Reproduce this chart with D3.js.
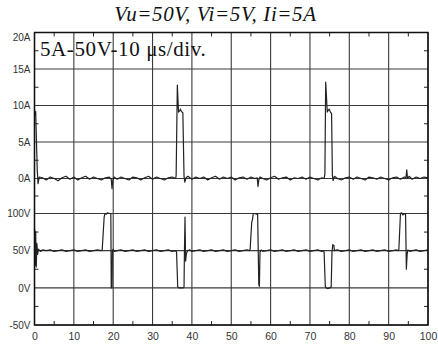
<!DOCTYPE html>
<html>
<head>
<meta charset="utf-8">
<script src="https://cdn.jsdelivr.net/npm/d3@7"></script>
<style>
  html, body { margin: 0; padding: 0; background: #fff; }
  svg { display: block; }
</style>
</head>
<body>
<svg id="chart" width="438" height="344"></svg>
<script>
// Time axis (µs) and tick labels
const timeTicks = [0, 10, 20, 30, 40, 50, 60, 70, 80, 90, 100];
const currentTicks = [0, 5, 10, 15, 20];
const voltageTicks = [-50, 0, 50, 100];

// Inductor current trace: [time, amperes]
const currentTrace = [
  [0,8.6],[0.3,9.2],[0.5,5.0],[0.7,1.2],[0.9,-0.7],[1.2,0.2],[2,0.1],[3,-0.2],[4,0.2],[5,0],
  [6,-0.3],[7,0.1],[8,0.3],[9,-0.1],[10,0.2],[11,-0.2],[12,0.1],[13,0.3],[14,-0.1],[15,0.2],
  [16,0],[17,-0.2],[18,0.1],[19,0.2],[19.5,-0.1],[19.7,-1.4],[19.9,-0.3],[20.2,0.2],[21,-0.1],
  [22,0.2],[23,0],[24,-0.2],[25,0.2],[26,0.1],[27,-0.2],[28,0.1],[29,0.3],[30,-0.1],[31,0.2],
  [32,0],[33,-0.2],[34,0.1],[35,0.2],[35.9,0],[36.0,0.5],[36.3,12.8],[36.6,9.1],[36.9,9.3],
  [37.1,9.5],[37.3,9.2],[37.7,9.0],[38.0,0.3],[38.2,-0.5],[38.5,0.1],[39,0.3],[40,-0.1],[41,0.2],
  [42,0],[43,0.2],[44,-0.2],[45,0.1],[46,0.3],[47,-0.1],[48,0.2],[49,0],[50,0.2],[51,-0.2],
  [52,0.1],[53,0.2],[54,-0.1],[55,0.2],[56,0],[56.6,0.1],[56.8,-1.1],[57.0,-0.2],[57.3,0.2],
  [58,0],[59,-0.2],[60,0.1],[61,0.3],[62,-0.1],[63,0.1],[64,0.2],[65,-0.2],[66,0.1],[67,0],
  [68,0.2],[69,-0.1],[70,0.2],[71,0],[72,-0.2],[73,0.1],[73.6,0],[73.8,0.6],[74.0,13.2],
  [74.4,9.1],[74.7,9.4],[74.9,9.5],[75.2,9.1],[75.5,8.9],[75.7,0.4],[75.9,-0.3],[76.2,0.3],
  [77,0],[78,-0.2],[79,0.1],[80,0.2],[81,-0.1],[82,0.2],[83,0],[84,-0.2],[85,0.2],[86,0.1],
  [87,-0.1],[88,0.2],[89,0],[90,-0.2],[91,0.1],[92,0.2],[93,-0.1],[94,0.2],[94.4,0.1],
  [94.6,1.2],[94.8,0],[95.2,0.3],[96,-0.1],[97,0.2],[98,0],[99,0.2],[100,0.1]
];

// Switch node voltage trace: [time, volts]
const voltageTrace = [
  [0,80],[0.15,30],[0.3,76],[0.45,28],[0.6,60],[0.8,45],[1.0,52],[1.5,49],[2,51],[3,50],
  [4,51],[5,49],[6,50],[7,51],[8,49],[9,50],[10,51],[11,49],[12,50],[13,51],[14,49],[15,50],
  [16,51],[16.9,50],[17.2,51],[17.7,95],[17.9,100],[18.2,99],[18.6,101],[19.0,100],[19.4,100],
  [19.5,0],[19.7,0],[19.8,50],[20.0,52],[20.3,49],[21,50],[22,51],[23,49],[24,50],[25,51],
  [26,49],[27,50],[28,51],[29,49],[30,50],[31,51],[32,49],[33,50],[34,51],[35,49],[35.9,50],
  [36.1,48],[36.4,1],[36.7,0],[37.2,0],[37.8,0],[38.0,1],[38.1,48],[38.25,95],[38.4,36],
  [38.6,46],[38.9,50],[39.5,51],[40,49],[41,50],[42,51],[43,49],[44,50],[45,51],[46,49],
  [47,50],[48,51],[49,49],[50,50],[51,51],[52,49],[53,50],[54,51],[54.6,50],[54.8,52],
  [55.2,88],[55.4,92],[55.6,100],[56.0,100],[56.4,99],[56.7,100],[57.0,5],[57.15,2],
  [57.3,48],[57.6,51],[58,49],[59,50],[60,51],[61,49],[62,50],[63,51],[64,49],[65,50],
  [66,51],[67,49],[68,50],[69,51],[70,49],[71,50],[72,51],[73,49],[73.4,50],[73.6,48],
  [73.9,2],[74.1,0],[74.5,-1],[75.0,0],[75.4,1],[75.6,48],[75.8,58],[76.1,57],[76.2,50],
  [77,51],[78,49],[79,50],[80,51],[81,49],[82,50],[83,51],[84,49],[85,50],[86,51],[87,49],
  [88,50],[89,51],[90,49],[91,50],[92,51],[92.4,50],[92.6,52],[93.0,100],[93.3,101],
  [93.6,98],[94.0,100],[94.3,99],[94.5,25],[94.7,45],[94.9,51],[95.5,49],[96,50],[97,51],
  [98,49],[99,50],[100,51]
];

const svg = d3.select("#chart");
const plotLeft = 34.5, plotRight = 428, plotTop = 32.5, plotBottom = 325;

const x = d3.scaleLinear().domain([0, 100]).range([plotLeft, plotRight]);
const yA = d3.scaleLinear().domain([0, 20]).range([178.5, plotTop]);
const yV = d3.scaleLinear().domain([-50, 100]).range([plotBottom, 213.5]);

const ink = "#222";
const gridColor = "#3a3a3a";
const labelFont = "'Liberation Sans', Arial, sans-serif";
const serifFont = "'Liberation Serif', 'Times New Roman', serif";

// Grid lines
const grid = svg.append("g").attr("stroke", gridColor).attr("stroke-width", 1.1);
timeTicks.forEach(t => {
  grid.append("line").attr("x1", x(t)).attr("x2", x(t)).attr("y1", plotTop).attr("y2", plotBottom);
});
currentTicks.forEach(a => {
  grid.append("line").attr("x1", plotLeft).attr("x2", plotRight).attr("y1", yA(a)).attr("y2", yA(a));
});
voltageTicks.forEach(v => {
  grid.append("line").attr("x1", plotLeft).attr("x2", plotRight).attr("y1", yV(v)).attr("y2", yV(v));
});

// Minor ticks on all four sides, pointing inward
const minor = svg.append("g").attr("stroke", ink).attr("stroke-width", 1);
const tickLen = 4;
d3.range(5, 100, 10).forEach(t => {
  minor.append("line").attr("x1", x(t)).attr("x2", x(t)).attr("y1", plotTop).attr("y2", plotTop + tickLen);
  minor.append("line").attr("x1", x(t)).attr("x2", x(t)).attr("y1", plotBottom).attr("y2", plotBottom - tickLen);
});
const minorY = [2.5, 7.5, 12.5, 17.5].map(a => yA(a))
  .concat([(yA(0) + yV(100)) / 2])
  .concat([-25, 25, 75].map(v => yV(v)));
minorY.forEach(py => {
  minor.append("line").attr("x1", plotLeft).attr("x2", plotLeft + tickLen).attr("y1", py).attr("y2", py);
  minor.append("line").attr("x1", plotRight).attr("x2", plotRight - tickLen).attr("y1", py).attr("y2", py);
});

// Axis labels via d3 axes
const axisA = d3.axisLeft(yA).tickValues(currentTicks).tickFormat(d => d + "A").tickSize(0).tickPadding(4);
const axisV = d3.axisLeft(yV).tickValues(voltageTicks).tickFormat(d => d + "V").tickSize(0).tickPadding(4);
const axisX = d3.axisBottom(x).tickValues(timeTicks).tickFormat(d3.format("d")).tickSize(0).tickPadding(8);

function styleAxis(g) {
  g.select(".domain").remove();
  g.selectAll("text").attr("font-family", labelFont).attr("font-size", 10).attr("fill", "#333");
}
const gA = svg.append("g").attr("transform", `translate(${plotLeft},0)`).call(axisA).call(styleAxis);
gA.selectAll(".tick").filter(d => d === 20).select("text").attr("dy", "0.75em");
svg.append("g").attr("transform", `translate(${plotLeft},0)`).call(axisV).call(styleAxis);
svg.append("g").attr("transform", `translate(0,${plotBottom})`).call(axisX).call(styleAxis)
  .selectAll("text").attr("font-size", 10.5);

// Traces
const lineA = d3.line().x(d => x(d[0])).y(d => yA(d[1]));
const lineV = d3.line().x(d => x(d[0])).y(d => yV(d[1]));
svg.append("path").attr("d", lineA(currentTrace)).attr("fill", "none")
  .attr("stroke", ink).attr("stroke-width", 1.2).attr("stroke-linejoin", "round");
svg.append("path").attr("d", lineV(voltageTrace)).attr("fill", "none")
  .attr("stroke", ink).attr("stroke-width", 1.2).attr("stroke-linejoin", "round");

// Frame
svg.append("rect").attr("x", plotLeft).attr("y", plotTop)
  .attr("width", plotRight - plotLeft).attr("height", plotBottom - plotTop)
  .attr("fill", "none").attr("stroke", "#111").attr("stroke-width", 1.5);

// Scale annotation inside the plot
svg.append("text").attr("x", 40).attr("y", 56)
  .attr("font-family", serifFont).attr("font-size", 21).attr("letter-spacing", 0.6)
  .attr("fill", "#111").text("5A-50V-10 μs/div.");

// Title
svg.append("text").attr("x", 215.5).attr("y", 21).attr("text-anchor", "middle")
  .attr("font-family", serifFont).attr("font-style", "italic")
  .attr("font-size", 21).attr("letter-spacing", 0.6).attr("fill", "#111")
  .text("Vu=50V, Vi=5V, Ii=5A");
</script>
</body>
</html>
